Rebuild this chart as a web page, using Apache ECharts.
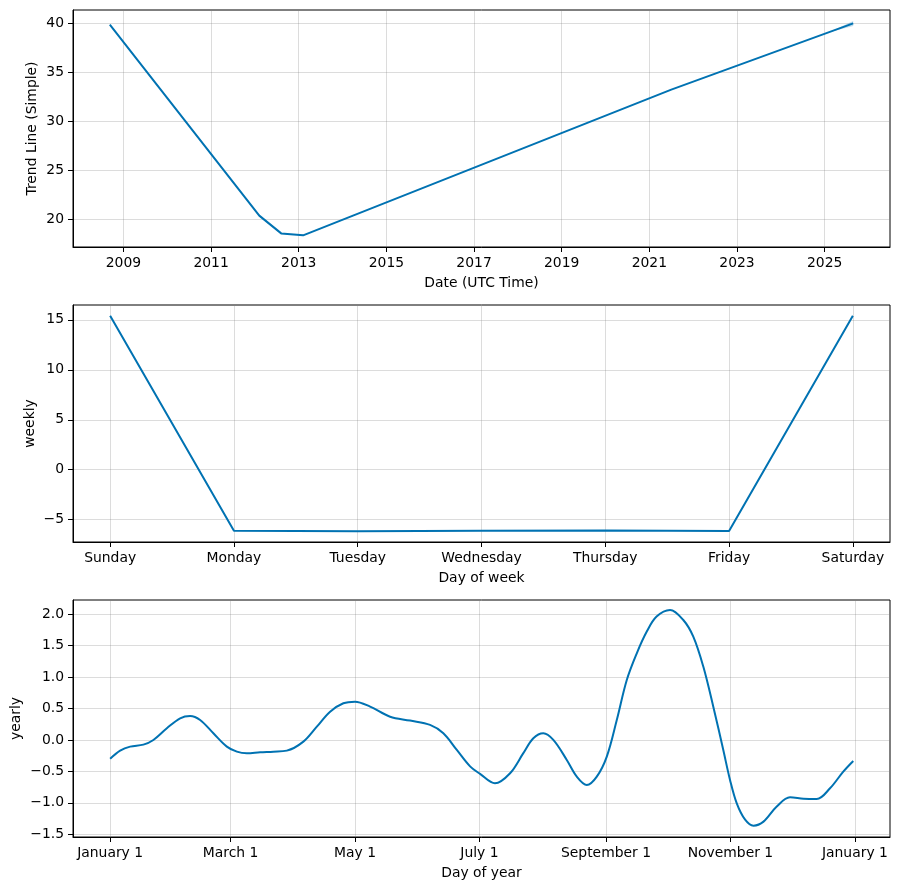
<!DOCTYPE html>
<html>
<head>
<meta charset="utf-8">
<script src="https://cdn.jsdelivr.net/npm/echarts@6/dist/echarts.min.js"></script>
<style>
html,body{margin:0;padding:0;background:#fff;}
#chart{width:900px;height:890px;}
</style>
</head>
<body>
<div id="chart"></div>
<script>
// ---- Trend panel data (decimal years) ----
const trendYears = [2008.69, 2012.1, 2012.6, 2013.1, 2021.5, 2025.65];
const trendValues = [39.83, 20.34, 18.53, 18.33, 33.2, 39.96];
const bandYears = [2025.1, 2025.65];
const bandLower = [39.07, 39.70];
const bandUpper = [39.07, 40.22];
const trendTicks = [2009, 2011, 2013, 2015, 2017, 2019, 2021, 2023, 2025];
const trendYTicks = [20, 25, 30, 35, 40];

// ---- Weekly panel data ----
const weekDays = ['Sunday', 'Monday', 'Tuesday', 'Wednesday', 'Thursday', 'Friday', 'Saturday'];
const weeklyValues = [15.4, -6.1, -6.15, -6.1, -6.08, -6.12, 15.4];
const weeklyYTicks = [-5, 0, 5, 10, 15];

// ---- Yearly panel data (day of year) ----
const yearDays = [0, 4.9, 9.8, 16.3, 21.2, 27.8, 34.3, 39.2, 44.1, 50.6, 57.2, 62.1, 67, 73.5, 80, 86.6,
  94.7, 101.3, 107.8, 114.3, 120, 127.4, 137.2, 147, 156.8, 163.3, 169.9, 176.4, 181.3, 188.6,
  196, 202.5, 207.4, 212.3, 217.2, 223.8, 228.7, 233.6, 238.5, 243.4, 248.3, 253.2, 258.1, 263,
  267.8, 274.4, 280.9, 285.8, 290.7, 295.6, 300.5, 303.8, 307.1, 311.2, 315.3, 320.2, 326.7,
  333.2, 339.8, 346.3, 352.8, 359.3, 364.2];
const yearlyValues = [-0.30, -0.17, -0.106, -0.074, 0.0, 0.186, 0.345, 0.382, 0.318, 0.106, -0.106, -0.186, -0.212, -0.196, -0.186, -0.17,
  -0.027, 0.212, 0.45, 0.584, 0.61, 0.53, 0.37, 0.308, 0.239, 0.106, -0.159, -0.42, -0.54, -0.69,
  -0.53, -0.21, 0.027, 0.106, 0.0, -0.318, -0.584, -0.717, -0.584, -0.265, 0.318, 0.955, 1.38, 1.725,
  1.964, 2.07, 1.91, 1.645, 1.168, 0.53, -0.16, -0.637, -1.01, -1.27, -1.364, -1.30, -1.06,
  -0.913, -0.935, -0.94, -0.77, -0.504, -0.334];
const yearTickDays = [0, 59, 120, 181, 243, 304, 365];
const yearTickLabels = ['January 1', 'March 1', 'May 1', 'July 1', 'September 1', 'November 1', 'January 1'];
const yearlyYTicks = [-1.5, -1.0, -0.5, 0.0, 0.5, 1.0, 1.5, 2.0];

const LINE = '#0072B2';
const FONT = 'DejaVu Sans';
const FS = 13.9;
const GRIDLINE = 'rgba(128,128,128,0.28)';
const fmtMinus = (s) => String(s).replace('-', '\u2212');

function xAxisBase(gridIndex, min, max, ticks, fmt, name) {
  return {
    type: 'value', gridIndex, min, max,
    name, nameLocation: 'middle', nameGap: 29, nameMoveOverlap: false,
    nameTextStyle: {fontFamily: FONT, fontSize: FS, color: '#000'},
    axisLine: {show: true, onZero: false, lineStyle: {color: '#000', width: 1}},
    axisTick: {show: true, length: 5, customValues: ticks, lineStyle: {color: '#000', width: 1}},
    axisLabel: {customValues: ticks, margin: 9, fontFamily: FONT, fontSize: FS, color: '#000', formatter: fmt, hideOverlap: false, showMinLabel: true, showMaxLabel: true},
    splitLine: {show: true, lineStyle: {color: GRIDLINE, width: 1}}
  };
}
function yAxisBase(gridIndex, min, max, ticks, fmt, name, nameGap) {
  return {
    type: 'value', gridIndex, min, max,
    name, nameLocation: 'middle', nameGap, nameRotate: 90, nameMoveOverlap: false,
    nameTextStyle: {fontFamily: FONT, fontSize: FS, color: '#000'},
    axisLine: {show: true, onZero: false, lineStyle: {color: '#000', width: 1}},
    axisTick: {show: true, length: 5, customValues: ticks, lineStyle: {color: '#000', width: 1}},
    axisLabel: {customValues: ticks, margin: 9, fontFamily: FONT, fontSize: FS, color: '#000', formatter: fmt},
    splitLine: {show: true, lineStyle: {color: GRIDLINE, width: 1}}
  };
}

const trendData = trendYears.map((x, i) => [x, trendValues[i]]);
const bandData = bandYears.map((x, i) => [x, bandLower[i], bandUpper[i]]);
const weeklyData = weeklyValues.map((v, i) => [i, v]);
const yearlyData = yearDays.map((d, i) => [d, yearlyValues[i]]);

const gridBase = {left: 73, right: 10, height: 237, show: true, borderColor: '#000', borderWidth: 1, backgroundColor: 'transparent', containLabel: false, outerBoundsMode: 'none'};

function renderBand(params, api) {
  if (params.dataIndex !== 0) return null;
  const upper = [], lower = [];
  for (let i = 0; i < bandData.length; i++) {
    upper.push(api.coord([bandData[i][0], bandData[i][2]]));
    lower.unshift(api.coord([bandData[i][0], bandData[i][1]]));
  }
  return {
    type: 'polygon',
    shape: {points: upper.concat(lower)},
    style: {fill: 'rgba(0,114,178,0.25)', stroke: 'none'},
    silent: true
  };
}

const chart = echarts.init(document.getElementById('chart'), null, {renderer: 'canvas'});
chart.setOption({
  animation: false,
  backgroundColor: '#fff',
  grid: [
    Object.assign({}, gridBase, {top: 10}),
    Object.assign({}, gridBase, {top: 305}),
    Object.assign({}, gridBase, {top: 600})
  ],
  xAxis: [
    xAxisBase(0, 2007.85, 2026.49, trendTicks, (v) => String(Math.round(v)), 'Date (UTC Time)'),
    xAxisBase(1, -0.3, 6.3, [0, 1, 2, 3, 4, 5, 6], (v) => weekDays[Math.round(v)], 'Day of week'),
    xAxisBase(2, -18.2, 382.2, yearTickDays, (v) => yearTickLabels[yearTickDays.indexOf(Math.round(v))], 'Day of year')
  ],
  yAxis: [
    yAxisBase(0, 17.14, 41.33, trendYTicks, (v) => fmtMinus(Math.round(v)), 'Trend Line (Simple)', 34),
    yAxisBase(1, -7.23, 16.48, weeklyYTicks, (v) => fmtMinus(Math.round(v)), 'weekly', 36),
    yAxisBase(2, -1.545, 2.228, yearlyYTicks, (v) => fmtMinus(v.toFixed(1)), 'yearly', 50)
  ],
  series: [
    {type: 'custom', xAxisIndex: 0, yAxisIndex: 0, data: bandData, renderItem: renderBand, silent: true, z: 1, encode: {x: 0, y: [1, 2]}},
    {type: 'line', xAxisIndex: 0, yAxisIndex: 0, data: trendData, symbol: 'none', z: 2, lineStyle: {color: LINE, width: 2}},
    {type: 'line', xAxisIndex: 1, yAxisIndex: 1, data: weeklyData, symbol: 'none', lineStyle: {color: LINE, width: 2}},
    {type: 'line', xAxisIndex: 2, yAxisIndex: 2, data: yearlyData, symbol: 'none', smooth: 0.35, lineStyle: {color: LINE, width: 2}}
  ]
});
</script>
</body>
</html>
